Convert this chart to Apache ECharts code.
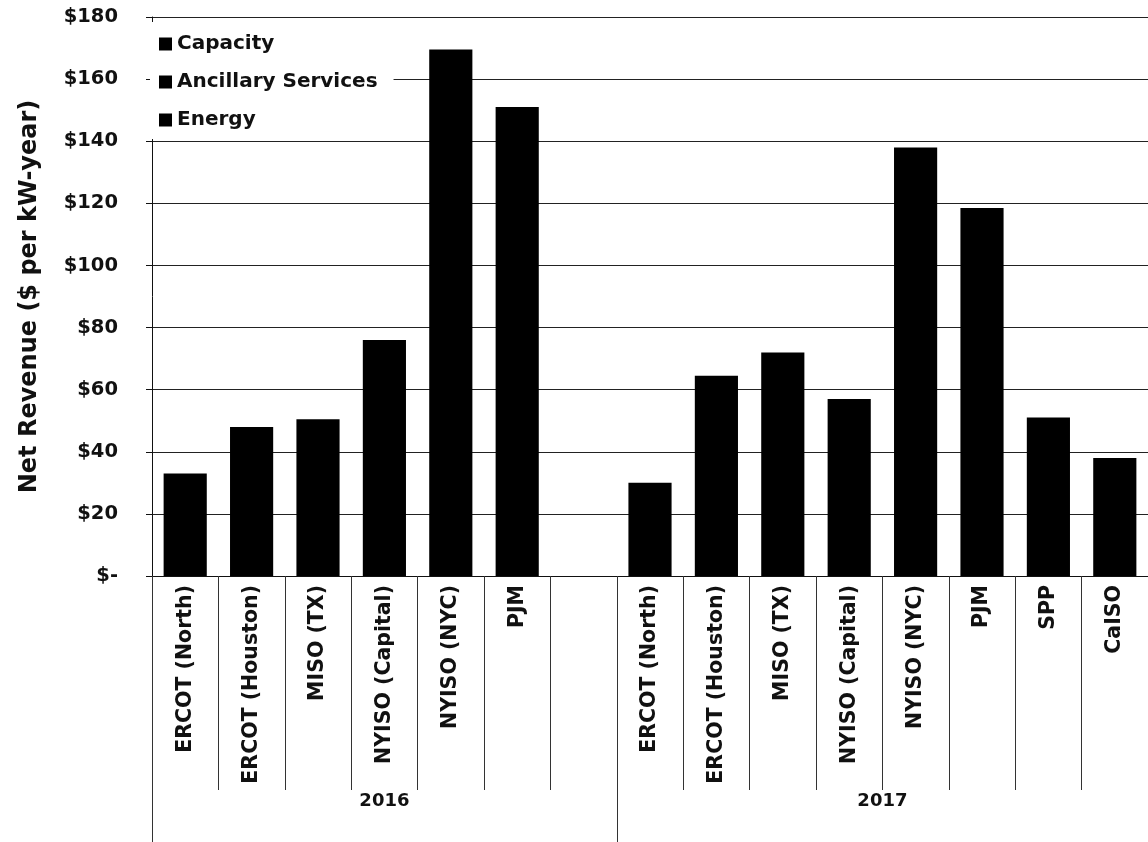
<!DOCTYPE html>
<html>
<head>
<meta charset="utf-8">
<title>Net Revenue ($ per kW-year)</title>
<script src="https://cdn.jsdelivr.net/npm/echarts@6/dist/echarts.min.js"></script>
<style>
  html, body { margin: 0; padding: 0; background: #fff; }
  #chart { width: 1148px; height: 842px; }
</style>
</head>
<body>
<div id="chart"></div>
<script>
// Market regions per year (the empty slot separates the two years)
const regions2016 = ['ERCOT (North)', 'ERCOT (Houston)', 'MISO (TX)', 'NYISO (Capital)', 'NYISO (NYC)', 'PJM'];
const regions2017 = ['ERCOT (North)', 'ERCOT (Houston)', 'MISO (TX)', 'NYISO (Capital)', 'NYISO (NYC)', 'PJM', 'SPP', 'CaISO'];
const years = ['2016', '2017'];

// Net revenue totals, $ per kW-year
const netRevenue2016 = [33, 48, 50.5, 76, 169.5, 151];
const netRevenue2017 = [30, 64.5, 72, 57, 138, 118.5, 51, 38];

// Revenue components listed in the key
const components = ['Capacity', 'Ancillary Services', 'Energy'];

// Y axis
const yMin = 0, yMax = 180, yStep = 20;

// Build the flat category list and matching values
const categories = regions2016.concat([''], regions2017);
const totals = netRevenue2016.concat([null], netRevenue2017);
const slots2016 = regions2016.length + 1;
const slotsAll = categories.length;

const FONT = '"DejaVu Sans", sans-serif';
const INK = '#111';

const chart = echarts.init(document.getElementById('chart'), null, { renderer: 'canvas' });

chart.setOption({
  animation: false,
  backgroundColor: '#fff',
  textStyle: { fontFamily: FONT },
  grid: { left: 152, right: 0, top: 17, bottom: 266, containLabel: false },
  legend: {
    data: components,
    orient: 'vertical',
    left: 150,
    top: 22,
    padding: [12, 16, 9, 9],
    backgroundColor: '#fff',
    itemWidth: 13,
    itemHeight: 13,
    itemGap: 18,
    icon: 'rect',
    selectedMode: false,
    textStyle: { fontFamily: FONT, fontSize: 20, fontWeight: 'bold', color: INK }
  },
  xAxis: [
    {
      type: 'category',
      data: categories,
      position: 'bottom',
      boundaryGap: true,
      axisLine: { show: true, lineStyle: { color: INK, width: 1 } },
      axisTick: { show: true, interval: 0, length: 214, lineStyle: { color: '#333', width: 1 } },
      axisLabel: {
        interval: 0,
        rotate: 90,
        margin: 9,
        fontFamily: FONT,
        fontSize: 20.5,
        fontWeight: 'bold',
        color: INK
      },
      splitLine: { show: false }
    },
    {
      // Year level of the category axis
      type: 'value',
      min: 0,
      max: slotsAll,
      position: 'bottom',
      axisLine: { show: false },
      axisTick: {
        show: true,
        customValues: [0, slots2016, slotsAll],
        length: 266,
        lineStyle: { color: '#333', width: 1 }
      },
      axisLabel: {
        show: true,
        customValues: [slots2016 / 2, slots2016 + (slotsAll - slots2016) / 2],
        formatter: function (v) { return v < slots2016 ? years[0] : years[1]; },
        margin: 216,
        fontFamily: FONT,
        fontSize: 18,
        fontWeight: 'bold',
        color: INK
      },
      splitLine: { show: false }
    }
  ],
  yAxis: {
    type: 'value',
    min: yMin,
    max: yMax,
    interval: yStep,
    name: 'Net Revenue ($ per kW-year)',
    nameLocation: 'middle',
    nameGap: 110,
    nameTextStyle: { fontFamily: FONT, fontSize: 24, fontWeight: 'bold', color: INK },
    axisLine: { show: true, lineStyle: { color: INK, width: 1 } },
    axisTick: { show: true, inside: false, length: 6, lineStyle: { color: INK } },
    axisLabel: {
      margin: 34,
      fontFamily: FONT,
      fontSize: 19.5,
      fontWeight: 'bold',
      color: INK,
      formatter: function (v) { return v === 0 ? '$-' : '$' + v; }
    },
    splitLine: { show: true, lineStyle: { color: '#222', width: 1 } }
  },
  series: [
    // Components share one solid fill; the bar height is the net total
    { name: 'Capacity', type: 'bar', stack: 'net', data: [], itemStyle: { color: '#000' } },
    { name: 'Ancillary Services', type: 'bar', stack: 'net', data: [], itemStyle: { color: '#000' } },
    {
      name: 'Energy',
      type: 'bar',
      stack: 'net',
      xAxisIndex: 0,
      barWidth: '65%',
      data: totals,
      itemStyle: { color: '#000' }
    }
  ]
});
</script>
</body>
</html>
